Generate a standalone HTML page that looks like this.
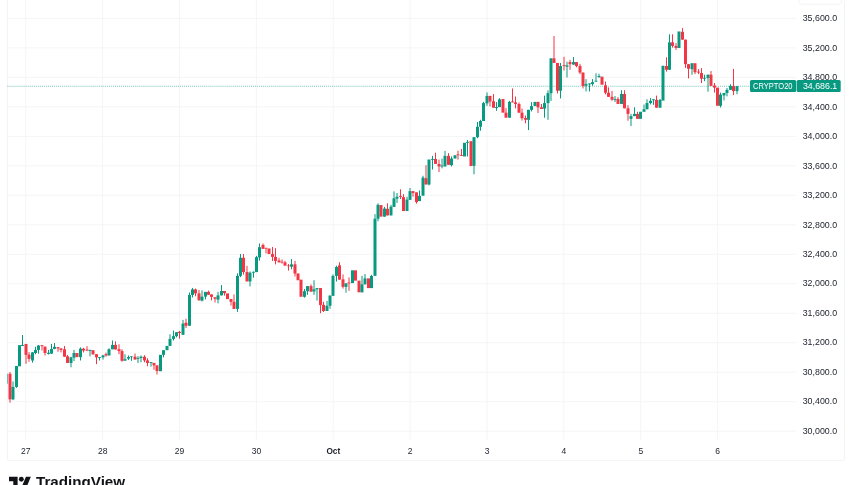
<!DOCTYPE html><html><head><meta charset="utf-8"><title>CRYPTO20 chart</title>
<style>html,body{margin:0;padding:0;background:#fff;}body{width:852px;height:485px;overflow:hidden;position:relative;font-family:"Liberation Sans",sans-serif;}svg{position:absolute;left:0;top:0;display:block;will-change:transform;}text{font-family:"Liberation Sans",sans-serif;}</style></head><body>
<svg width="852" height="485" viewBox="0 0 852 485">
<defs><clipPath id="pane"><rect x="7.40" y="0" width="788.60" height="440"/></clipPath></defs>
<g stroke="#F4F5F6" stroke-width="1" fill="none">
<line x1="7.40" y1="18.40" x2="796" y2="18.40"/>
<line x1="7.40" y1="47.89" x2="796" y2="47.89"/>
<line x1="7.40" y1="77.37" x2="796" y2="77.37"/>
<line x1="7.40" y1="106.86" x2="796" y2="106.86"/>
<line x1="7.40" y1="136.34" x2="796" y2="136.34"/>
<line x1="7.40" y1="165.83" x2="796" y2="165.83"/>
<line x1="7.40" y1="195.32" x2="796" y2="195.32"/>
<line x1="7.40" y1="224.80" x2="796" y2="224.80"/>
<line x1="7.40" y1="254.29" x2="796" y2="254.29"/>
<line x1="7.40" y1="283.77" x2="796" y2="283.77"/>
<line x1="7.40" y1="313.26" x2="796" y2="313.26"/>
<line x1="7.40" y1="342.75" x2="796" y2="342.75"/>
<line x1="7.40" y1="372.23" x2="796" y2="372.23"/>
<line x1="7.40" y1="401.72" x2="796" y2="401.72"/>
<line x1="7.40" y1="431.20" x2="796" y2="431.20"/>
<line x1="25.70" y1="0" x2="25.70" y2="439.8"/>
<line x1="102.58" y1="0" x2="102.58" y2="439.8"/>
<line x1="179.46" y1="0" x2="179.46" y2="439.8"/>
<line x1="256.34" y1="0" x2="256.34" y2="439.8"/>
<line x1="333.22" y1="0" x2="333.22" y2="439.8"/>
<line x1="410.10" y1="0" x2="410.10" y2="439.8"/>
<line x1="486.98" y1="0" x2="486.98" y2="439.8"/>
<line x1="563.85" y1="0" x2="563.85" y2="439.8"/>
<line x1="640.73" y1="0" x2="640.73" y2="439.8"/>
<line x1="717.61" y1="0" x2="717.61" y2="439.8"/>
</g>
<path d="M7.40 -5 V460.30 H844.40 V-5" fill="none" stroke="#F2F3F5" stroke-width="1"/>
<rect x="799" y="-10" width="42.6" height="14.2" rx="2.5" fill="#fff" stroke="#F2F3F5" stroke-width="1"/>
<line x1="7.40" y1="86.2" x2="750" y2="86.2" stroke="#089981" stroke-width="1.1" stroke-dasharray="0.95 1.08" opacity="0.6"/>
<g clip-path="url(#pane)">
<rect x="5.00" y="373.73" width="3.00" height="9.90" fill="#089981"/>
<rect x="9.50" y="372.08" width="1.00" height="30.53" fill="#F23645"/>
<rect x="8.50" y="373.73" width="3.00" height="25.58" fill="#F23645"/>
<rect x="12.50" y="381.49" width="1.00" height="18.65" fill="#089981"/>
<rect x="11.50" y="386.93" width="3.00" height="12.38" fill="#089981"/>
<rect x="16.00" y="365.97" width="1.00" height="21.78" fill="#089981"/>
<rect x="15.00" y="365.97" width="3.00" height="20.96" fill="#089981"/>
<rect x="18.00" y="345.17" width="3.00" height="21.14" fill="#089981"/>
<rect x="22.00" y="334.98" width="1.00" height="10.95" fill="#089981"/>
<rect x="21.00" y="344.93" width="3.00" height="1.00" fill="#089981"/>
<rect x="25.50" y="343.93" width="1.00" height="19.90" fill="#F23645"/>
<rect x="24.50" y="343.93" width="3.00" height="10.95" fill="#F23645"/>
<rect x="28.50" y="352.14" width="1.00" height="9.58" fill="#F23645"/>
<rect x="27.50" y="354.63" width="3.00" height="4.23" fill="#F23645"/>
<rect x="32.00" y="352.14" width="1.00" height="10.45" fill="#089981"/>
<rect x="31.00" y="352.39" width="3.00" height="8.08" fill="#089981"/>
<rect x="35.00" y="346.79" width="1.00" height="7.46" fill="#089981"/>
<rect x="34.00" y="349.90" width="3.00" height="3.11" fill="#089981"/>
<rect x="38.00" y="344.93" width="1.00" height="8.71" fill="#089981"/>
<rect x="37.00" y="345.55" width="3.00" height="4.35" fill="#089981"/>
<rect x="41.50" y="345.17" width="1.00" height="5.35" fill="#F23645"/>
<rect x="40.50" y="345.17" width="3.00" height="1.00" fill="#F23645"/>
<rect x="44.50" y="346.17" width="1.00" height="9.33" fill="#F23645"/>
<rect x="43.50" y="346.79" width="3.00" height="6.22" fill="#F23645"/>
<rect x="48.00" y="349.90" width="1.00" height="4.60" fill="#089981"/>
<rect x="47.00" y="352.76" width="3.00" height="1.12" fill="#089981"/>
<rect x="51.00" y="343.93" width="1.00" height="9.70" fill="#089981"/>
<rect x="50.00" y="348.91" width="3.00" height="4.73" fill="#089981"/>
<rect x="54.00" y="343.06" width="1.00" height="6.22" fill="#089981"/>
<rect x="53.00" y="346.79" width="3.00" height="2.11" fill="#089981"/>
<rect x="57.50" y="347.16" width="1.00" height="4.60" fill="#F23645"/>
<rect x="56.50" y="347.16" width="3.00" height="1.24" fill="#F23645"/>
<rect x="60.50" y="348.41" width="1.00" height="3.98" fill="#F23645"/>
<rect x="59.50" y="348.41" width="3.00" height="1.49" fill="#F23645"/>
<rect x="64.00" y="345.92" width="1.00" height="10.82" fill="#F23645"/>
<rect x="63.00" y="349.28" width="3.00" height="7.46" fill="#F23645"/>
<rect x="67.00" y="354.88" width="1.00" height="8.08" fill="#F23645"/>
<rect x="66.00" y="356.37" width="3.00" height="6.59" fill="#F23645"/>
<rect x="70.50" y="356.74" width="1.00" height="10.57" fill="#089981"/>
<rect x="69.50" y="357.36" width="3.00" height="5.60" fill="#089981"/>
<rect x="73.50" y="349.90" width="1.00" height="11.19" fill="#089981"/>
<rect x="72.50" y="353.01" width="3.00" height="4.60" fill="#089981"/>
<rect x="75.50" y="353.01" width="3.00" height="4.10" fill="#F23645"/>
<rect x="80.00" y="347.41" width="1.00" height="13.06" fill="#089981"/>
<rect x="79.00" y="348.66" width="3.00" height="8.46" fill="#089981"/>
<rect x="83.00" y="347.79" width="1.00" height="4.60" fill="#F23645"/>
<rect x="82.00" y="348.66" width="3.00" height="1.87" fill="#F23645"/>
<rect x="86.50" y="346.17" width="1.00" height="4.98" fill="#F23645"/>
<rect x="85.50" y="349.65" width="3.00" height="0.87" fill="#F23645"/>
<rect x="89.50" y="349.90" width="1.00" height="6.47" fill="#089981"/>
<rect x="88.50" y="349.90" width="3.00" height="1.00" fill="#089981"/>
<rect x="91.50" y="350.15" width="3.00" height="4.35" fill="#F23645"/>
<rect x="96.00" y="354.20" width="1.00" height="9.95" fill="#F23645"/>
<rect x="95.00" y="354.20" width="3.00" height="3.11" fill="#F23645"/>
<rect x="99.00" y="357.06" width="1.00" height="3.36" fill="#089981"/>
<rect x="98.00" y="357.06" width="3.00" height="0.87" fill="#089981"/>
<rect x="102.50" y="354.83" width="1.00" height="4.73" fill="#089981"/>
<rect x="101.50" y="355.45" width="3.00" height="1.87" fill="#089981"/>
<rect x="105.50" y="352.59" width="1.00" height="4.10" fill="#F23645"/>
<rect x="104.50" y="354.20" width="3.00" height="1.24" fill="#F23645"/>
<rect x="108.50" y="348.36" width="1.00" height="7.09" fill="#089981"/>
<rect x="107.50" y="349.23" width="3.00" height="6.22" fill="#089981"/>
<rect x="112.00" y="340.52" width="1.00" height="8.71" fill="#089981"/>
<rect x="111.00" y="344.88" width="3.00" height="4.35" fill="#089981"/>
<rect x="115.00" y="341.39" width="1.00" height="8.08" fill="#F23645"/>
<rect x="114.00" y="344.88" width="3.00" height="4.60" fill="#F23645"/>
<rect x="118.50" y="344.25" width="1.00" height="9.95" fill="#F23645"/>
<rect x="117.50" y="349.23" width="3.00" height="1.87" fill="#F23645"/>
<rect x="121.50" y="349.23" width="1.00" height="12.44" fill="#F23645"/>
<rect x="120.50" y="351.09" width="3.00" height="9.70" fill="#F23645"/>
<rect x="124.50" y="354.20" width="1.00" height="6.47" fill="#089981"/>
<rect x="123.50" y="359.18" width="3.00" height="1.49" fill="#089981"/>
<rect x="128.00" y="355.45" width="1.00" height="4.60" fill="#089981"/>
<rect x="127.00" y="357.06" width="3.00" height="1.49" fill="#089981"/>
<rect x="131.00" y="356.40" width="1.00" height="4.39" fill="#089981"/>
<rect x="130.00" y="356.40" width="3.00" height="0.70" fill="#089981"/>
<rect x="134.50" y="353.58" width="1.00" height="5.97" fill="#F23645"/>
<rect x="133.50" y="356.69" width="3.00" height="2.86" fill="#F23645"/>
<rect x="137.50" y="356.07" width="1.00" height="6.84" fill="#089981"/>
<rect x="136.50" y="357.94" width="3.00" height="0.87" fill="#089981"/>
<rect x="140.50" y="355.45" width="1.00" height="6.84" fill="#089981"/>
<rect x="139.50" y="356.69" width="3.00" height="1.24" fill="#089981"/>
<rect x="144.00" y="355.20" width="1.00" height="7.09" fill="#F23645"/>
<rect x="143.00" y="356.69" width="3.00" height="3.73" fill="#F23645"/>
<rect x="147.00" y="358.31" width="1.00" height="7.96" fill="#F23645"/>
<rect x="146.00" y="360.42" width="3.00" height="2.49" fill="#F23645"/>
<rect x="150.50" y="362.04" width="1.00" height="4.60" fill="#089981"/>
<rect x="149.50" y="362.04" width="3.00" height="0.87" fill="#089981"/>
<rect x="153.50" y="362.91" width="1.00" height="6.84" fill="#F23645"/>
<rect x="152.50" y="362.91" width="3.00" height="2.49" fill="#F23645"/>
<rect x="156.50" y="365.40" width="1.00" height="9.08" fill="#F23645"/>
<rect x="155.50" y="365.40" width="3.00" height="5.60" fill="#F23645"/>
<rect x="159.00" y="354.83" width="3.00" height="16.42" fill="#089981"/>
<rect x="163.00" y="350.22" width="1.00" height="7.09" fill="#089981"/>
<rect x="162.00" y="350.22" width="3.00" height="4.60" fill="#089981"/>
<rect x="165.50" y="345.87" width="3.00" height="4.35" fill="#089981"/>
<rect x="169.50" y="334.30" width="1.00" height="11.57" fill="#089981"/>
<rect x="168.50" y="338.91" width="3.00" height="6.97" fill="#089981"/>
<rect x="173.00" y="330.57" width="1.00" height="9.95" fill="#089981"/>
<rect x="172.00" y="336.17" width="3.00" height="2.74" fill="#089981"/>
<rect x="176.00" y="332.19" width="1.00" height="5.22" fill="#089981"/>
<rect x="175.00" y="332.19" width="3.00" height="3.98" fill="#089981"/>
<rect x="179.00" y="330.95" width="1.00" height="7.71" fill="#F23645"/>
<rect x="178.00" y="331.82" width="3.00" height="1.24" fill="#F23645"/>
<rect x="182.50" y="319.89" width="1.00" height="14.93" fill="#089981"/>
<rect x="181.50" y="323.62" width="3.00" height="11.19" fill="#089981"/>
<rect x="185.50" y="318.64" width="1.00" height="9.33" fill="#F23645"/>
<rect x="184.50" y="322.75" width="3.00" height="2.99" fill="#F23645"/>
<rect x="189.00" y="292.52" width="1.00" height="33.21" fill="#089981"/>
<rect x="188.00" y="295.01" width="3.00" height="30.72" fill="#089981"/>
<rect x="192.00" y="287.92" width="1.00" height="9.58" fill="#089981"/>
<rect x="191.00" y="289.41" width="3.00" height="5.60" fill="#089981"/>
<rect x="195.00" y="288.54" width="1.00" height="7.71" fill="#F23645"/>
<rect x="194.00" y="289.41" width="3.00" height="3.98" fill="#F23645"/>
<rect x="198.50" y="290.03" width="1.00" height="10.32" fill="#F23645"/>
<rect x="197.50" y="293.39" width="3.00" height="6.97" fill="#F23645"/>
<rect x="201.50" y="290.41" width="1.00" height="11.07" fill="#089981"/>
<rect x="200.50" y="296.63" width="3.00" height="3.98" fill="#089981"/>
<rect x="205.00" y="291.90" width="1.00" height="7.46" fill="#089981"/>
<rect x="204.00" y="291.90" width="3.00" height="4.73" fill="#089981"/>
<rect x="208.00" y="290.66" width="1.00" height="4.10" fill="#F23645"/>
<rect x="207.00" y="291.90" width="3.00" height="2.86" fill="#F23645"/>
<rect x="211.00" y="294.39" width="1.00" height="5.97" fill="#F23645"/>
<rect x="210.00" y="294.39" width="3.00" height="2.49" fill="#F23645"/>
<rect x="214.50" y="297.25" width="1.00" height="5.22" fill="#F23645"/>
<rect x="213.50" y="297.25" width="3.00" height="1.49" fill="#F23645"/>
<rect x="217.50" y="291.90" width="1.00" height="11.44" fill="#089981"/>
<rect x="216.50" y="295.38" width="3.00" height="4.23" fill="#089981"/>
<rect x="221.00" y="285.06" width="1.00" height="10.32" fill="#089981"/>
<rect x="220.00" y="291.03" width="3.00" height="4.35" fill="#089981"/>
<rect x="224.00" y="291.03" width="1.00" height="4.60" fill="#F23645"/>
<rect x="223.00" y="291.03" width="3.00" height="2.11" fill="#F23645"/>
<rect x="226.00" y="293.39" width="3.00" height="5.72" fill="#F23645"/>
<rect x="230.50" y="299.11" width="1.00" height="6.47" fill="#F23645"/>
<rect x="229.50" y="299.11" width="3.00" height="2.74" fill="#F23645"/>
<rect x="233.50" y="294.39" width="1.00" height="14.55" fill="#F23645"/>
<rect x="232.50" y="301.85" width="3.00" height="7.09" fill="#F23645"/>
<rect x="237.00" y="273.31" width="1.00" height="38.56" fill="#089981"/>
<rect x="236.00" y="275.80" width="3.00" height="33.08" fill="#089981"/>
<rect x="240.00" y="254.03" width="1.00" height="23.01" fill="#089981"/>
<rect x="239.00" y="257.77" width="3.00" height="18.03" fill="#089981"/>
<rect x="243.00" y="254.03" width="1.00" height="20.52" fill="#F23645"/>
<rect x="242.00" y="257.77" width="3.00" height="14.30" fill="#F23645"/>
<rect x="246.50" y="265.85" width="1.00" height="15.55" fill="#F23645"/>
<rect x="245.50" y="272.07" width="3.00" height="9.33" fill="#F23645"/>
<rect x="249.50" y="271.45" width="1.00" height="14.93" fill="#089981"/>
<rect x="248.50" y="272.69" width="3.00" height="8.71" fill="#089981"/>
<rect x="253.00" y="271.45" width="1.00" height="6.22" fill="#089981"/>
<rect x="252.00" y="271.82" width="3.00" height="0.87" fill="#089981"/>
<rect x="256.00" y="255.90" width="1.00" height="16.17" fill="#089981"/>
<rect x="255.00" y="257.14" width="3.00" height="14.93" fill="#089981"/>
<rect x="259.00" y="243.46" width="1.00" height="17.16" fill="#089981"/>
<rect x="258.00" y="247.19" width="3.00" height="10.20" fill="#089981"/>
<rect x="262.50" y="243.46" width="1.00" height="5.35" fill="#F23645"/>
<rect x="261.50" y="244.96" width="3.00" height="3.86" fill="#F23645"/>
<rect x="265.50" y="247.82" width="1.00" height="5.60" fill="#F23645"/>
<rect x="264.50" y="247.82" width="3.00" height="0.75" fill="#F23645"/>
<rect x="267.50" y="248.44" width="3.00" height="5.60" fill="#F23645"/>
<rect x="272.00" y="246.95" width="1.00" height="13.93" fill="#F23645"/>
<rect x="271.00" y="254.03" width="3.00" height="2.86" fill="#F23645"/>
<rect x="275.00" y="248.19" width="1.00" height="16.17" fill="#F23645"/>
<rect x="274.00" y="256.90" width="3.00" height="3.98" fill="#F23645"/>
<rect x="278.50" y="257.77" width="1.00" height="4.60" fill="#F23645"/>
<rect x="277.50" y="260.50" width="3.00" height="1.87" fill="#F23645"/>
<rect x="281.50" y="259.38" width="1.00" height="4.23" fill="#F23645"/>
<rect x="280.50" y="261.83" width="3.00" height="0.70" fill="#F23645"/>
<rect x="284.50" y="260.88" width="1.00" height="4.73" fill="#F23645"/>
<rect x="283.50" y="262.37" width="3.00" height="3.23" fill="#F23645"/>
<rect x="288.00" y="263.99" width="1.00" height="6.59" fill="#F23645"/>
<rect x="287.00" y="265.56" width="3.00" height="0.70" fill="#F23645"/>
<rect x="291.00" y="259.01" width="1.00" height="10.32" fill="#089981"/>
<rect x="290.00" y="264.36" width="3.00" height="2.36" fill="#089981"/>
<rect x="294.50" y="260.88" width="1.00" height="15.55" fill="#F23645"/>
<rect x="293.50" y="264.36" width="3.00" height="9.20" fill="#F23645"/>
<rect x="296.50" y="273.41" width="3.00" height="6.84" fill="#F23645"/>
<rect x="299.50" y="279.63" width="3.00" height="17.16" fill="#F23645"/>
<rect x="304.00" y="288.96" width="1.00" height="8.71" fill="#089981"/>
<rect x="303.00" y="291.20" width="3.00" height="5.60" fill="#089981"/>
<rect x="307.00" y="286.10" width="1.00" height="8.71" fill="#089981"/>
<rect x="306.00" y="286.10" width="3.00" height="5.10" fill="#089981"/>
<rect x="310.50" y="284.36" width="1.00" height="7.34" fill="#F23645"/>
<rect x="309.50" y="286.10" width="3.00" height="5.60" fill="#F23645"/>
<rect x="313.50" y="280.25" width="1.00" height="14.55" fill="#089981"/>
<rect x="312.50" y="289.33" width="3.00" height="2.11" fill="#089981"/>
<rect x="316.50" y="288.09" width="1.00" height="12.44" fill="#089981"/>
<rect x="315.50" y="288.09" width="3.00" height="1.24" fill="#089981"/>
<rect x="320.00" y="288.09" width="1.00" height="25.12" fill="#F23645"/>
<rect x="319.00" y="288.09" width="3.00" height="17.04" fill="#F23645"/>
<rect x="323.00" y="301.77" width="1.00" height="10.20" fill="#F23645"/>
<rect x="322.00" y="304.88" width="3.00" height="6.09" fill="#F23645"/>
<rect x="326.50" y="301.02" width="1.00" height="9.95" fill="#089981"/>
<rect x="325.50" y="305.75" width="3.00" height="5.22" fill="#089981"/>
<rect x="329.50" y="295.55" width="1.00" height="13.31" fill="#089981"/>
<rect x="328.50" y="295.55" width="3.00" height="10.20" fill="#089981"/>
<rect x="332.50" y="274.41" width="1.00" height="21.39" fill="#089981"/>
<rect x="331.50" y="275.90" width="3.00" height="19.90" fill="#089981"/>
<rect x="336.00" y="265.70" width="1.00" height="15.80" fill="#089981"/>
<rect x="335.00" y="266.95" width="3.00" height="8.96" fill="#089981"/>
<rect x="339.00" y="262.22" width="1.00" height="17.41" fill="#F23645"/>
<rect x="338.00" y="265.33" width="3.00" height="14.30" fill="#F23645"/>
<rect x="342.50" y="274.41" width="1.00" height="14.18" fill="#F23645"/>
<rect x="341.50" y="279.38" width="3.00" height="7.46" fill="#F23645"/>
<rect x="345.50" y="283.36" width="1.00" height="9.33" fill="#089981"/>
<rect x="344.50" y="283.36" width="3.00" height="3.48" fill="#089981"/>
<rect x="348.50" y="277.39" width="1.00" height="13.43" fill="#F23645"/>
<rect x="347.50" y="282.49" width="3.00" height="0.87" fill="#F23645"/>
<rect x="351.00" y="270.30" width="3.00" height="12.81" fill="#089981"/>
<rect x="354.00" y="270.30" width="3.00" height="10.32" fill="#F23645"/>
<rect x="357.50" y="280.63" width="3.00" height="11.69" fill="#F23645"/>
<rect x="361.50" y="275.90" width="1.00" height="16.42" fill="#089981"/>
<rect x="360.50" y="284.36" width="3.00" height="7.96" fill="#089981"/>
<rect x="364.50" y="274.03" width="1.00" height="10.32" fill="#089981"/>
<rect x="363.50" y="278.39" width="3.00" height="5.97" fill="#089981"/>
<rect x="367.00" y="278.39" width="3.00" height="9.70" fill="#F23645"/>
<rect x="371.00" y="274.91" width="1.00" height="13.18" fill="#089981"/>
<rect x="370.00" y="275.90" width="3.00" height="12.19" fill="#089981"/>
<rect x="374.50" y="214.15" width="1.00" height="61.69" fill="#089981"/>
<rect x="373.50" y="218.76" width="3.00" height="57.09" fill="#089981"/>
<rect x="377.50" y="203.33" width="1.00" height="17.91" fill="#089981"/>
<rect x="376.50" y="204.83" width="3.00" height="13.93" fill="#089981"/>
<rect x="379.50" y="205.07" width="3.00" height="11.57" fill="#F23645"/>
<rect x="384.00" y="206.94" width="1.00" height="9.70" fill="#089981"/>
<rect x="383.00" y="208.56" width="3.00" height="8.08" fill="#089981"/>
<rect x="387.00" y="203.33" width="1.00" height="12.06" fill="#F23645"/>
<rect x="386.00" y="208.81" width="3.00" height="6.59" fill="#F23645"/>
<rect x="390.50" y="204.83" width="1.00" height="10.57" fill="#089981"/>
<rect x="389.50" y="206.69" width="3.00" height="8.71" fill="#089981"/>
<rect x="393.50" y="191.39" width="1.00" height="15.55" fill="#089981"/>
<rect x="392.50" y="198.36" width="3.00" height="8.58" fill="#089981"/>
<rect x="396.50" y="193.01" width="1.00" height="9.95" fill="#089981"/>
<rect x="395.50" y="196.74" width="3.00" height="1.87" fill="#089981"/>
<rect x="400.00" y="189.28" width="1.00" height="9.58" fill="#F23645"/>
<rect x="399.00" y="196.12" width="3.00" height="0.87" fill="#F23645"/>
<rect x="403.00" y="194.25" width="1.00" height="16.79" fill="#F23645"/>
<rect x="402.00" y="197.11" width="3.00" height="13.93" fill="#F23645"/>
<rect x="406.50" y="196.74" width="1.00" height="14.30" fill="#089981"/>
<rect x="405.50" y="199.60" width="3.00" height="11.44" fill="#089981"/>
<rect x="409.50" y="188.03" width="1.00" height="11.82" fill="#089981"/>
<rect x="408.50" y="191.14" width="3.00" height="8.71" fill="#089981"/>
<rect x="412.50" y="191.14" width="1.00" height="5.60" fill="#F23645"/>
<rect x="411.50" y="191.14" width="3.00" height="1.87" fill="#F23645"/>
<rect x="416.00" y="192.39" width="1.00" height="11.19" fill="#F23645"/>
<rect x="415.00" y="192.39" width="3.00" height="9.70" fill="#F23645"/>
<rect x="419.00" y="190.52" width="1.00" height="10.57" fill="#089981"/>
<rect x="418.00" y="195.87" width="3.00" height="5.22" fill="#089981"/>
<rect x="422.50" y="175.75" width="1.00" height="19.90" fill="#089981"/>
<rect x="421.50" y="177.62" width="3.00" height="18.03" fill="#089981"/>
<rect x="425.50" y="165.18" width="1.00" height="19.28" fill="#F23645"/>
<rect x="424.50" y="178.24" width="3.00" height="6.22" fill="#F23645"/>
<rect x="428.50" y="159.58" width="1.00" height="25.87" fill="#089981"/>
<rect x="427.50" y="159.58" width="3.00" height="24.88" fill="#089981"/>
<rect x="432.00" y="155.85" width="1.00" height="13.68" fill="#089981"/>
<rect x="431.00" y="158.96" width="3.00" height="0.87" fill="#089981"/>
<rect x="435.00" y="152.74" width="1.00" height="11.19" fill="#F23645"/>
<rect x="434.00" y="158.96" width="3.00" height="4.98" fill="#F23645"/>
<rect x="438.50" y="159.58" width="1.00" height="12.44" fill="#F23645"/>
<rect x="437.50" y="163.94" width="3.00" height="2.49" fill="#F23645"/>
<rect x="441.50" y="158.59" width="1.00" height="9.70" fill="#089981"/>
<rect x="440.50" y="165.55" width="3.00" height="0.87" fill="#089981"/>
<rect x="444.50" y="150.88" width="1.00" height="15.55" fill="#089981"/>
<rect x="443.50" y="155.85" width="3.00" height="10.57" fill="#089981"/>
<rect x="448.00" y="153.11" width="1.00" height="11.69" fill="#F23645"/>
<rect x="447.00" y="155.85" width="3.00" height="8.96" fill="#F23645"/>
<rect x="451.00" y="156.47" width="1.00" height="9.95" fill="#089981"/>
<rect x="450.00" y="158.59" width="3.00" height="6.59" fill="#089981"/>
<rect x="453.50" y="155.23" width="3.00" height="3.36" fill="#089981"/>
<rect x="457.50" y="150.63" width="1.00" height="8.96" fill="#F23645"/>
<rect x="456.50" y="154.36" width="3.00" height="0.87" fill="#F23645"/>
<rect x="461.00" y="149.01" width="1.00" height="6.97" fill="#F23645"/>
<rect x="460.00" y="155.23" width="3.00" height="0.75" fill="#F23645"/>
<rect x="463.00" y="142.79" width="3.00" height="13.68" fill="#089981"/>
<rect x="467.00" y="139.93" width="1.00" height="16.54" fill="#089981"/>
<rect x="466.00" y="141.92" width="3.00" height="0.87" fill="#089981"/>
<rect x="469.50" y="141.17" width="3.00" height="24.88" fill="#F23645"/>
<rect x="473.50" y="137.19" width="1.00" height="37.06" fill="#089981"/>
<rect x="472.50" y="137.19" width="3.00" height="28.61" fill="#089981"/>
<rect x="477.00" y="122.02" width="1.00" height="16.17" fill="#089981"/>
<rect x="476.00" y="126.75" width="3.00" height="10.45" fill="#089981"/>
<rect x="480.00" y="119.78" width="1.00" height="10.95" fill="#089981"/>
<rect x="479.00" y="121.02" width="3.00" height="5.72" fill="#089981"/>
<rect x="483.00" y="101.87" width="1.00" height="19.15" fill="#089981"/>
<rect x="482.00" y="103.11" width="3.00" height="17.91" fill="#089981"/>
<rect x="486.50" y="92.42" width="1.00" height="13.43" fill="#089981"/>
<rect x="485.50" y="95.90" width="3.00" height="7.46" fill="#089981"/>
<rect x="489.50" y="95.90" width="1.00" height="10.57" fill="#F23645"/>
<rect x="488.50" y="95.90" width="3.00" height="5.60" fill="#F23645"/>
<rect x="493.00" y="94.03" width="1.00" height="13.68" fill="#F23645"/>
<rect x="492.00" y="101.25" width="3.00" height="6.47" fill="#F23645"/>
<rect x="496.00" y="102.12" width="1.00" height="8.71" fill="#089981"/>
<rect x="495.00" y="107.09" width="3.00" height="1.00" fill="#089981"/>
<rect x="499.00" y="98.14" width="1.00" height="8.96" fill="#089981"/>
<rect x="498.00" y="99.38" width="3.00" height="7.71" fill="#089981"/>
<rect x="501.50" y="99.01" width="3.00" height="13.68" fill="#F23645"/>
<rect x="505.50" y="108.09" width="1.00" height="9.58" fill="#F23645"/>
<rect x="504.50" y="112.69" width="3.00" height="4.98" fill="#F23645"/>
<rect x="509.00" y="100.88" width="1.00" height="16.79" fill="#089981"/>
<rect x="508.00" y="101.87" width="3.00" height="15.80" fill="#089981"/>
<rect x="512.00" y="88.44" width="1.00" height="13.93" fill="#F23645"/>
<rect x="511.00" y="101.50" width="3.00" height="0.87" fill="#F23645"/>
<rect x="515.00" y="96.52" width="1.00" height="11.82" fill="#F23645"/>
<rect x="514.00" y="102.37" width="3.00" height="1.62" fill="#F23645"/>
<rect x="518.50" y="102.37" width="1.00" height="10.32" fill="#F23645"/>
<rect x="517.50" y="103.99" width="3.00" height="8.71" fill="#F23645"/>
<rect x="521.50" y="108.59" width="1.00" height="11.94" fill="#F23645"/>
<rect x="520.50" y="112.69" width="3.00" height="5.60" fill="#F23645"/>
<rect x="525.00" y="115.55" width="1.00" height="7.71" fill="#F23645"/>
<rect x="524.00" y="118.04" width="3.00" height="1.74" fill="#F23645"/>
<rect x="528.00" y="109.83" width="1.00" height="20.27" fill="#089981"/>
<rect x="527.00" y="109.83" width="3.00" height="9.95" fill="#089981"/>
<rect x="531.00" y="102.12" width="1.00" height="9.33" fill="#089981"/>
<rect x="530.00" y="106.10" width="3.00" height="3.73" fill="#089981"/>
<rect x="533.50" y="101.87" width="3.00" height="4.23" fill="#089981"/>
<rect x="537.50" y="101.87" width="1.00" height="11.19" fill="#F23645"/>
<rect x="536.50" y="101.87" width="3.00" height="5.47" fill="#F23645"/>
<rect x="541.00" y="103.99" width="1.00" height="4.98" fill="#F23645"/>
<rect x="540.00" y="107.34" width="3.00" height="1.62" fill="#F23645"/>
<rect x="544.00" y="95.65" width="1.00" height="22.01" fill="#089981"/>
<rect x="543.00" y="103.11" width="3.00" height="5.47" fill="#089981"/>
<rect x="547.50" y="90.30" width="1.00" height="29.48" fill="#089981"/>
<rect x="546.50" y="93.16" width="3.00" height="9.95" fill="#089981"/>
<rect x="550.50" y="58.36" width="1.00" height="42.54" fill="#089981"/>
<rect x="549.50" y="58.36" width="3.00" height="34.83" fill="#089981"/>
<rect x="553.50" y="35.97" width="1.00" height="26.99" fill="#F23645"/>
<rect x="552.50" y="58.36" width="3.00" height="4.60" fill="#F23645"/>
<rect x="557.00" y="62.96" width="1.00" height="30.47" fill="#F23645"/>
<rect x="556.00" y="62.96" width="3.00" height="27.74" fill="#F23645"/>
<rect x="560.00" y="62.96" width="1.00" height="35.45" fill="#089981"/>
<rect x="559.00" y="66.07" width="3.00" height="24.63" fill="#089981"/>
<rect x="563.50" y="56.74" width="1.00" height="13.68" fill="#F23645"/>
<rect x="562.50" y="65.20" width="3.00" height="0.87" fill="#F23645"/>
<rect x="566.50" y="61.72" width="1.00" height="15.80" fill="#089981"/>
<rect x="565.50" y="65.45" width="3.00" height="1.24" fill="#089981"/>
<rect x="569.50" y="59.85" width="1.00" height="9.95" fill="#F23645"/>
<rect x="568.50" y="62.09" width="3.00" height="2.11" fill="#F23645"/>
<rect x="573.00" y="57.11" width="1.00" height="7.46" fill="#089981"/>
<rect x="572.00" y="62.09" width="3.00" height="2.49" fill="#089981"/>
<rect x="576.00" y="62.09" width="1.00" height="5.22" fill="#F23645"/>
<rect x="575.00" y="62.09" width="3.00" height="3.98" fill="#F23645"/>
<rect x="579.50" y="63.83" width="1.00" height="10.32" fill="#F23645"/>
<rect x="578.50" y="66.07" width="3.00" height="6.47" fill="#F23645"/>
<rect x="582.50" y="72.54" width="1.00" height="15.92" fill="#F23645"/>
<rect x="581.50" y="72.54" width="3.00" height="13.43" fill="#F23645"/>
<rect x="585.50" y="79.13" width="1.00" height="12.31" fill="#089981"/>
<rect x="584.50" y="84.10" width="3.00" height="1.62" fill="#089981"/>
<rect x="589.00" y="83.48" width="1.00" height="7.96" fill="#089981"/>
<rect x="588.00" y="83.48" width="3.00" height="0.87" fill="#089981"/>
<rect x="592.00" y="79.13" width="1.00" height="6.59" fill="#089981"/>
<rect x="591.00" y="82.24" width="3.00" height="1.87" fill="#089981"/>
<rect x="595.50" y="73.28" width="1.00" height="8.33" fill="#089981"/>
<rect x="594.50" y="80.75" width="3.00" height="0.87" fill="#089981"/>
<rect x="598.50" y="73.78" width="1.00" height="4.10" fill="#089981"/>
<rect x="597.50" y="76.02" width="3.00" height="1.00" fill="#089981"/>
<rect x="600.50" y="76.64" width="3.00" height="8.08" fill="#F23645"/>
<rect x="605.00" y="81.55" width="1.00" height="12.81" fill="#F23645"/>
<rect x="604.00" y="85.28" width="3.00" height="7.46" fill="#F23645"/>
<rect x="608.00" y="87.39" width="1.00" height="9.45" fill="#F23645"/>
<rect x="607.00" y="92.74" width="3.00" height="4.10" fill="#F23645"/>
<rect x="611.50" y="90.88" width="1.00" height="9.95" fill="#F23645"/>
<rect x="610.50" y="96.85" width="3.00" height="2.74" fill="#F23645"/>
<rect x="614.50" y="96.10" width="1.00" height="5.97" fill="#089981"/>
<rect x="613.50" y="98.96" width="3.00" height="0.87" fill="#089981"/>
<rect x="617.50" y="97.09" width="1.00" height="6.84" fill="#F23645"/>
<rect x="616.50" y="98.96" width="3.00" height="4.98" fill="#F23645"/>
<rect x="621.00" y="90.25" width="1.00" height="13.68" fill="#089981"/>
<rect x="620.00" y="93.99" width="3.00" height="9.95" fill="#089981"/>
<rect x="624.00" y="90.25" width="1.00" height="18.03" fill="#F23645"/>
<rect x="623.00" y="93.99" width="3.00" height="14.30" fill="#F23645"/>
<rect x="627.50" y="105.18" width="1.00" height="15.55" fill="#F23645"/>
<rect x="626.50" y="108.29" width="3.00" height="5.60" fill="#F23645"/>
<rect x="630.50" y="113.89" width="1.00" height="12.19" fill="#089981"/>
<rect x="629.50" y="116.12" width="3.00" height="2.74" fill="#089981"/>
<rect x="634.00" y="107.29" width="1.00" height="8.83" fill="#089981"/>
<rect x="633.00" y="113.89" width="3.00" height="2.24" fill="#089981"/>
<rect x="637.00" y="111.77" width="1.00" height="7.09" fill="#F23645"/>
<rect x="636.00" y="113.89" width="3.00" height="4.98" fill="#F23645"/>
<rect x="639.00" y="111.77" width="3.00" height="7.09" fill="#089981"/>
<rect x="643.50" y="104.56" width="1.00" height="7.21" fill="#089981"/>
<rect x="642.50" y="109.28" width="3.00" height="2.49" fill="#089981"/>
<rect x="646.50" y="99.33" width="1.00" height="9.95" fill="#089981"/>
<rect x="645.50" y="103.06" width="3.00" height="6.22" fill="#089981"/>
<rect x="650.00" y="98.09" width="1.00" height="6.22" fill="#089981"/>
<rect x="649.00" y="100.83" width="3.00" height="2.24" fill="#089981"/>
<rect x="653.00" y="99.33" width="1.00" height="5.47" fill="#089981"/>
<rect x="652.00" y="99.33" width="3.00" height="0.87" fill="#089981"/>
<rect x="656.00" y="95.60" width="1.00" height="12.06" fill="#F23645"/>
<rect x="655.00" y="99.83" width="3.00" height="7.84" fill="#F23645"/>
<rect x="659.50" y="98.96" width="1.00" height="8.71" fill="#089981"/>
<rect x="658.50" y="99.83" width="3.00" height="7.84" fill="#089981"/>
<rect x="661.50" y="65.77" width="3.00" height="34.83" fill="#089981"/>
<rect x="666.00" y="57.31" width="1.00" height="14.30" fill="#F23645"/>
<rect x="665.00" y="66.02" width="3.00" height="3.73" fill="#F23645"/>
<rect x="669.00" y="34.30" width="1.00" height="35.45" fill="#089981"/>
<rect x="668.00" y="42.39" width="3.00" height="27.36" fill="#089981"/>
<rect x="672.00" y="34.30" width="1.00" height="13.31" fill="#F23645"/>
<rect x="671.00" y="42.39" width="3.00" height="3.48" fill="#F23645"/>
<rect x="675.50" y="43.01" width="1.00" height="6.84" fill="#F23645"/>
<rect x="674.50" y="45.87" width="3.00" height="2.11" fill="#F23645"/>
<rect x="677.50" y="31.44" width="3.00" height="16.54" fill="#089981"/>
<rect x="682.00" y="28.08" width="1.00" height="11.57" fill="#F23645"/>
<rect x="681.00" y="31.82" width="3.00" height="7.84" fill="#F23645"/>
<rect x="685.00" y="39.65" width="1.00" height="28.23" fill="#F23645"/>
<rect x="684.00" y="39.65" width="3.00" height="24.50" fill="#F23645"/>
<rect x="688.00" y="64.15" width="1.00" height="14.30" fill="#F23645"/>
<rect x="687.00" y="64.15" width="3.00" height="4.60" fill="#F23645"/>
<rect x="691.50" y="63.28" width="1.00" height="11.44" fill="#089981"/>
<rect x="690.50" y="63.28" width="3.00" height="5.85" fill="#089981"/>
<rect x="694.50" y="63.28" width="1.00" height="10.82" fill="#F23645"/>
<rect x="693.50" y="63.28" width="3.00" height="8.96" fill="#F23645"/>
<rect x="698.00" y="69.13" width="1.00" height="4.98" fill="#F23645"/>
<rect x="697.00" y="71.62" width="3.00" height="0.87" fill="#F23645"/>
<rect x="701.00" y="68.08" width="1.00" height="14.93" fill="#F23645"/>
<rect x="700.00" y="73.06" width="3.00" height="5.60" fill="#F23645"/>
<rect x="704.00" y="74.68" width="1.00" height="6.47" fill="#089981"/>
<rect x="703.00" y="77.79" width="3.00" height="0.87" fill="#089981"/>
<rect x="707.50" y="74.68" width="1.00" height="17.04" fill="#089981"/>
<rect x="706.50" y="74.68" width="3.00" height="3.36" fill="#089981"/>
<rect x="710.50" y="70.95" width="1.00" height="14.93" fill="#F23645"/>
<rect x="709.50" y="74.68" width="3.00" height="11.19" fill="#F23645"/>
<rect x="714.00" y="83.01" width="1.00" height="9.58" fill="#F23645"/>
<rect x="713.00" y="85.50" width="3.00" height="2.11" fill="#F23645"/>
<rect x="716.00" y="87.61" width="3.00" height="18.16" fill="#F23645"/>
<rect x="720.00" y="92.59" width="1.00" height="14.93" fill="#089981"/>
<rect x="719.00" y="94.58" width="3.00" height="11.19" fill="#089981"/>
<rect x="723.50" y="92.96" width="1.00" height="7.46" fill="#089981"/>
<rect x="722.50" y="92.96" width="3.00" height="2.49" fill="#089981"/>
<rect x="726.50" y="87.99" width="1.00" height="8.33" fill="#089981"/>
<rect x="725.50" y="89.85" width="3.00" height="3.11" fill="#089981"/>
<rect x="730.00" y="84.25" width="1.00" height="5.60" fill="#089981"/>
<rect x="729.00" y="85.87" width="3.00" height="3.98" fill="#089981"/>
<rect x="733.00" y="68.96" width="1.00" height="26.12" fill="#F23645"/>
<rect x="732.00" y="86.12" width="3.00" height="4.98" fill="#F23645"/>
<rect x="736.50" y="86.12" width="1.00" height="8.08" fill="#089981"/>
<rect x="735.50" y="86.12" width="3.00" height="4.98" fill="#089981"/>
</g>
<g font-size="9.3" fill="#1c202b">
<text transform="translate(802.7 21.10) scale(0.95 1)">35,600.0</text>
<text transform="translate(802.7 50.59) scale(0.95 1)">35,200.0</text>
<text transform="translate(802.7 80.07) scale(0.95 1)">34,800.0</text>
<text transform="translate(802.7 109.56) scale(0.95 1)">34,400.0</text>
<text transform="translate(802.7 139.04) scale(0.95 1)">34,000.0</text>
<text transform="translate(802.7 168.53) scale(0.95 1)">33,600.0</text>
<text transform="translate(802.7 198.02) scale(0.95 1)">33,200.0</text>
<text transform="translate(802.7 227.50) scale(0.95 1)">32,800.0</text>
<text transform="translate(802.7 256.99) scale(0.95 1)">32,400.0</text>
<text transform="translate(802.7 286.47) scale(0.95 1)">32,000.0</text>
<text transform="translate(802.7 315.96) scale(0.95 1)">31,600.0</text>
<text transform="translate(802.7 345.45) scale(0.95 1)">31,200.0</text>
<text transform="translate(802.7 374.93) scale(0.95 1)">30,800.0</text>
<text transform="translate(802.7 404.42) scale(0.95 1)">30,400.0</text>
<text transform="translate(802.7 433.90) scale(0.95 1)">30,000.0</text>
</g>
<g font-size="9" fill="#1c202b" text-anchor="middle">
<text transform="translate(25.80 453.8) scale(0.95 1)">27</text>
<text transform="translate(102.68 453.8) scale(0.95 1)">28</text>
<text transform="translate(179.56 453.8) scale(0.95 1)">29</text>
<text transform="translate(256.44 453.8) scale(0.95 1)">30</text>
<text transform="translate(333.32 453.8) scale(0.92 1)" font-weight="bold">Oct</text>
<text transform="translate(410.20 453.8) scale(0.95 1)">2</text>
<text transform="translate(487.08 453.8) scale(0.95 1)">3</text>
<text transform="translate(563.95 453.8) scale(0.95 1)">4</text>
<text transform="translate(640.83 453.8) scale(0.95 1)">5</text>
<text transform="translate(717.71 453.8) scale(0.95 1)">6</text>
</g>
<rect x="750" y="80" width="46.2" height="12.1" rx="1.5" fill="#089981"/>
<rect x="796.7" y="80" width="44" height="12.1" rx="1.5" fill="#089981"/>
<text transform="translate(753 89.2) scale(0.84 1)" font-size="9" fill="#fff">CRYPTO20</text>
<text transform="translate(802.9 89.0) scale(0.95 1)" font-size="9.3" fill="#fff">34,686.1</text>
<g transform="translate(9.0,474.4) scale(0.615)" fill="#111317"><path d="M14 22H7V11H0V4h14v18z"/><path d="M28 22h-8l7.5-18h8L28 22z"/><circle cx="20" cy="8" r="4"/></g>
<text x="35.95" y="487.2" font-size="15.2" font-weight="bold" fill="#111317" letter-spacing="0">TradingView</text>
</svg></body></html>
